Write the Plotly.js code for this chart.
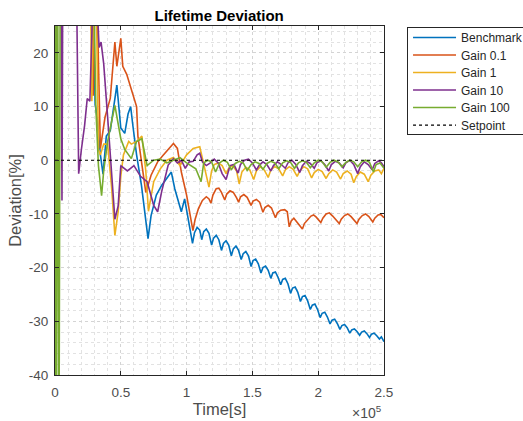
<!DOCTYPE html>
<html>
<head>
<meta charset="utf-8">
<script src="https://cdn.plot.ly/plotly-3.0.1.min.js"></script>
<style>html,body{margin:0;padding:0;background:#fff;}#chart{width:523px;height:421px;}</style>
</head>
<body>
<div id="chart"></div>
<script>
// Time in units of 10^5 s, deviation in %
const benchT = [0,0.012,0.28,0.305,0.32,0.345,0.365,0.39,0.42,0.47,0.50,0.53,0.555,0.575,0.59,0.62,0.657,0.707,0.73,0.77,0.81,0.884,0.91,0.96,0.985,
1.045,1.06,1.08,1.10,1.115,1.13,1.15,1.17,1.19,1.205,1.225,1.245,1.265,1.28,1.30,1.32,1.34,1.355,1.375,1.395,1.415,1.43,1.45,1.47,1.49,1.505,1.525,1.545,1.565,1.58,1.60,1.62,1.64,1.655,1.675,1.695,1.715,1.73,1.75,1.77,1.79,1.805,1.825,1.845,1.865,1.88,1.90,1.92,1.94,1.955,1.975,1.995,2.015,2.03,2.05,2.07,2.09,2.105,2.125,2.145,2.165,2.18,2.20,2.22,2.24,2.255,2.275,2.295,2.315,2.33,2.35,2.37,2.39,2.405,2.425,2.445,2.465,2.48,2.50];
const benchV = [-60,40,40,10.5,8,1,-2.6,4.5,5.5,14,6,5,8.6,10,6.8,1,-4.7,-14.6,-10.3,-6.5,-4.7,-2.2,-5.3,-9.6,-7.2,
-15.5,-13.5,-12.5,-13,-14.8,-13.3,-12.8,-13.6,-15.8,-14.5,-14.0,-14.8,-16.8,-15.5,-15.0,-15.8,-17.8,-16.5,-16.0,-16.8,-18.5,-17.4,-17.0,-17.8,-19.8,-18.7,-18.4,-19.3,-21,-20,-19.7,-20.5,-22,-21,-20.8,-21.8,-23.2,-22.2,-22,-23,-24.8,-23.8,-23.6,-24.6,-26.3,-25.4,-25.2,-26.2,-27.8,-27,-26.8,-27.8,-29.3,-28.5,-28.3,-29.2,-30.5,-29.8,-29.6,-30.4,-31.5,-30.8,-30.6,-31.2,-32.2,-31.6,-31.4,-31.9,-32.6,-32,-31.8,-32.3,-33,-32.4,-32.2,-32.7,-33.3,-32.9,-33.8];

const gain01T = [0,0.012,0.27,0.29,0.31,0.33,0.345,0.38,0.42,0.455,0.47,0.50,0.515,0.545,0.585,0.605,0.62,0.63,0.66,0.69,0.73,0.78,0.82,0.87,0.90,0.93,0.96,1.0,
1.048,1.065,1.09,1.12,1.15,1.17,1.185,1.20,1.225,1.245,1.265,1.29,1.305,1.33,1.355,1.38,1.395,1.41,1.435,1.46,1.49,1.505,1.53,1.555,1.58,1.595,1.62,1.645,1.675,1.69,1.715,1.745,1.765,1.78,1.795,1.815,1.835,1.88,1.895,1.92,1.945,1.965,1.985,2.02,2.035,2.06,2.085,2.11,2.16,2.175,2.20,2.225,2.25,2.295,2.31,2.335,2.36,2.385,2.415,2.43,2.455,2.475,2.50];
const gain01V = [-60,40,40,12,40,20,2.2,8,11.5,22,17.5,22.7,17.5,16,12.8,11,10,4.5,-0.3,-6,-2.8,-0.3,0.9,2.2,3.1,2.2,-2.2,-6.5,
-13.1,-11,-9,-7.5,-6.8,-7.2,-8,-6.5,-5.3,-5.2,-6,-7.4,-6.3,-5.7,-6.0,-7.0,-7.8,-6.8,-6.4,-6.9,-8.4,-7.6,-7.3,-7.8,-9.7,-8.8,-8.4,-8.9,-10.7,-9.8,-9.3,-9.2,-9.6,-12.4,-11.3,-10.8,-11.4,-12.8,-11.8,-11,-10.4,-10.2,-10.6,-11.6,-10.8,-10,-9.8,-10.4,-11.8,-11,-10.3,-10,-10.5,-11.8,-11,-10.3,-10,-10.5,-11.5,-10.8,-10.2,-10.1,-10.7];

const gain1T = [0,0.012,0.265,0.28,0.30,0.315,0.33,0.345,0.37,0.40,0.43,0.455,0.48,0.50,0.52,0.56,0.58,0.62,0.66,0.69,0.71,0.75,0.80,0.85,0.90,0.95,1.0,1.05,
1.10,1.12,1.15,1.17,1.19,1.21,1.24,1.27,1.30,1.32,1.35,1.38,1.40,1.42,1.45,1.48,1.51,1.53,1.56,1.59,1.62,1.64,1.67,1.70,1.73,1.75,1.78,1.81,1.84,1.86,1.89,1.92,1.95,1.97,2.00,2.03,2.06,2.08,2.11,2.14,2.17,2.19,2.22,2.25,2.27,2.29,2.32,2.35,2.38,2.40,2.43,2.46,2.48,2.50];
const gain1V = [-60,40,40,11,40,28,2,1,3,3,-5,-14,-9.6,-3,1,3.5,3,3.5,4.5,-2,-9.5,-4,-1.6,0,0.5,-1,1,2.2,
2.5,0.5,-3,-5,-2,-0.8,-0.5,-1,-2.5,-1.5,-1,-2,-4.4,-2.2,-1.3,-1.8,-3.6,-2,-1.2,-1.8,-3.2,-1.8,-1.2,-1.6,-2.9,-1.8,-1.2,-1.7,-3,-2,-1.2,-1.6,-3.3,-2.3,-1.7,-2.1,-3.4,-2.5,-1.8,-2.2,-3.5,-2.5,-2.0,-2.6,-4.2,-3,-2.2,-2.6,-4,-2.8,-2,-1.8,-2.5,-1.5];

const gain10T = [0,0.012,0.045,0.053,0.06,0.16,0.18,0.20,0.225,0.245,0.265,0.30,0.335,0.35,0.37,0.40,0.43,0.455,0.48,0.50,0.55,0.60,0.65,0.70,0.75,0.78,0.81,0.86,
0.90,0.93,0.96,0.99,1.02,1.05,1.08,1.10,1.12,1.15,1.18,1.21,1.24,1.27,1.30,1.33,1.36,1.39,1.41,1.44,1.47,1.50,1.53,1.55,1.58,1.61,1.64,1.66,1.69,1.72,1.75,1.77,1.80,1.83,1.86,1.88,1.91,1.94,1.97,1.99,2.02,2.05,2.08,2.10,2.13,2.16,2.19,2.21,2.24,2.27,2.30,2.32,2.35,2.38,2.41,2.43,2.46,2.48,2.50];
const gain10V = [-60,40,40,-7.5,40,40,-2.5,1.9,6.5,11.5,11,40,21,22,18,8,-2,-11,-8.5,-1,-2,-1,-3,-4,-8.4,-9.6,-5.9,-0.9,
0.3,-0.5,0,-1.5,-0.3,-0.2,1,1.3,-0.3,-1,-0.5,0.2,-0.5,-2.5,-3.6,-1,-0.8,-2.4,-0.8,0,0.2,-0.5,-1.8,-1,-0.3,-0.8,-2,-1,-0.3,-0.8,-1.5,-0.5,0,-0.8,-2.3,-1,-0.2,-0.6,-1.5,-0.5,-0.1,-0.8,-2,-0.8,-0.2,-0.5,-1.4,-0.5,0,-0.8,-2.5,-1.2,-0.3,-0.8,-1.8,-0.6,-0.1,-0.5,-1.2];

const gain100T = [0,0.005,0.01,0.02,0.03,0.04,0.29,0.31,0.33,0.354,0.37,0.40,0.455,0.47,0.50,0.53,0.58,0.62,0.66,0.70,0.75,0.80,0.85,0.90,0.95,1.0,1.07,1.11,
1.13,1.16,1.19,1.22,1.25,1.28,1.31,1.34,1.37,1.40,1.43,1.46,1.49,1.52,1.55,1.58,1.61,1.64,1.67,1.70,1.73,1.76,1.79,1.82,1.85,1.88,1.91,1.94,1.97,2.00,2.03,2.06,2.09,2.12,2.15,2.18,2.21,2.24,2.27,2.30,2.33,2.36,2.39,2.42,2.44,2.47,2.50];
const gain100V = [-60,40,-60,40,-60,40,40,10,-1,-6.6,-2,3.5,10.2,8,4,2,0.3,3.5,4,-1,0,0.2,-0.5,0,0.5,-0.5,-1.6,-4,
-0.5,0,-0.3,-2.2,-0.5,0,-0.4,-1.8,-0.6,-0.2,-0.5,-1.9,-0.8,-0.3,-0.6,-1.7,-0.6,-0.2,-0.5,-1.6,-0.5,-0.1,-0.4,-1.5,-0.5,-0.1,-0.4,-1.4,-0.5,0,-0.3,-1.3,-0.4,0,-0.3,-1.2,-0.4,0,-0.3,-1.2,-0.3,0,-0.4,-2.2,-0.8,-0.5,-1.5];

const setT = [0, 2.5];
const setV = [0, 0];

const names = ['Benchmark','Gain 0.1','Gain 1','Gain 10','Gain 100','Setpoint'];
const colors = ['#0072BD','#D95319','#EDB120','#7E2F8E','#77AC30','#000000'];
const xTicks = [0,0.5,1,1.5,2,2.5];
const yTicks = [-40,-30,-20,-10,0,10,20];

const series = [[benchT,benchV],[gain01T,gain01V],[gain1T,gain1V],[gain10T,gain10V],[gain100T,gain100V]];
const traces = series.map((s,i)=>({
  x: s[0], y: s[1], type:'scatter', mode:'lines', name: names[i],
  line:{color: colors[i], width:1.6}
}));
traces.push({x:setT, y:setV, type:'scatter', mode:'lines', name:names[5], line:{color:'#000', width:1.2, dash:'dot'}});

const fontFam = '"Liberation Sans", Arial, Helvetica, sans-serif';
const axisCommon = {
  showline:true, linecolor:'#262626', linewidth:1, mirror:'ticks',
  ticks:'inside', ticklen:4, tickcolor:'#262626',
  showgrid:true, gridcolor:'#d4d4d4', griddash:'dot', gridwidth:1,
  zeroline:false, tickfont:{family:fontFam, size:13.5, color:'#4d4d4d'}
};
const layout = {
  width:523, height:421,
  margin:{l:55, r:139, t:26, b:46, autoexpand:false},
  paper_bgcolor:'#fff', plot_bgcolor:'#fff',
  showlegend:true,
  title:{text:'<b>Lifetime Deviation</b>', font:{family:fontFam, size:15, color:'#000'}, x:0.419, xanchor:'center', y:0.962, yanchor:'middle'},
  xaxis: Object.assign({}, axisCommon, {
    range:[0,2.5], tickvals:xTicks, ticktext:xTicks.map(String), ticklabelstandoff:5,
    minor:{dtick:0.1, showgrid:true, gridcolor:'#e2e2e2', griddash:'dot', gridwidth:1},
    title:{text:'Time[s]', font:{family:fontFam, size:16.5, color:'#4d4d4d'}, standoff:3}
  }),
  yaxis: Object.assign({}, axisCommon, {
    range:[-40,25], tickvals:yTicks, ticktext:yTicks.map(String), ticklabelstandoff:3,
    minor:{dtick:2, showgrid:true, gridcolor:'#e2e2e2', griddash:'dot', gridwidth:1},
    title:{text:'Deviation[%]', font:{family:fontFam, size:16.5, color:'#4d4d4d'}, standoff:3}
  }),
  legend:{x:1.07, xanchor:'left', y:0.997, yanchor:'top', bordercolor:'#262626', borderwidth:1, bgcolor:'#fff',
    font:{family:fontFam, size:12, color:'#262626'}, tracegroupgap:0, itemwidth:43},
  annotations:[{xref:'paper', yref:'paper', x:1, xanchor:'right', y:-0.105, yanchor:'middle', showarrow:false,
    text:'×10<sup>5</sup>', font:{family:fontFam, size:14, color:'#4d4d4d'}}]
};
Plotly.newPlot('chart', traces, layout, {displayModeBar:false, staticPlot:true}).then(gd => {
  // tighten legend rows and lengthen sample lines to match the reference legend
  const rows = gd.querySelectorAll('.legend .traces');
  let y0 = null;
  rows.forEach((g, i) => {
    const m = /translate\(\s*([-\d.eE]+)[ ,]+([-\d.eE]+)\s*\)/.exec(g.getAttribute('transform') || '');
    if (!m) return;
    const x = parseFloat(m[1]), y = parseFloat(m[2]);
    if (y0 === null) y0 = y;
    g.setAttribute('transform', 'translate(' + x + ',' + (y0 - 5 + i * 17.5) + ')');
  });
  const bg = gd.querySelector('.legend rect.bg');
  if (bg) { bg.setAttribute('height', 107); bg.setAttribute('width', parseFloat(bg.getAttribute('width')) + 12); }
  gd.querySelectorAll('.legend .legendlines path').forEach(p => {
    const d = p.getAttribute('d');
    if (d) p.setAttribute('d', d.replace(/h30/, 'h42'));
  });
});
</script>
</body>
</html>
